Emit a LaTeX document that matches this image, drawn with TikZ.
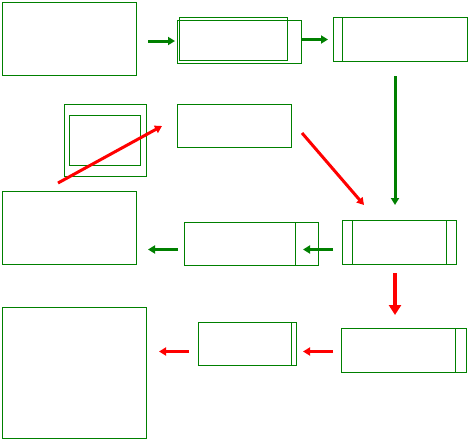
\documentclass[tikz,border=0pt]{standalone}
\usetikzlibrary{arrows.meta}
\definecolor{dgreen}{RGB}{0,128,0}
\definecolor{dred}{RGB}{255,0,0}
\begin{document}
\begin{tikzpicture}[x=1pt,y=-1pt,
  box/.style={draw=dgreen,line width=1pt,inner sep=0pt,outer sep=0pt,rectangle},
  sep/.style={draw=dgreen,line width=1pt},
  garr/.style={draw=dgreen,line width=3pt,-{Triangle[length=7pt,width=8pt]}},
  rarr/.style={draw=dred,line width=3pt,-{Triangle[length=7pt,width=8pt]}},
  rarrbig/.style={draw=dred,line width=3.5pt,-{Triangle[length=10pt,width=12pt]}}]
\useasboundingbox (0,0) rectangle (471,442);
% boxes
\node[box,minimum width=134pt,minimum height=73pt] (A) at (69,38.5) {};
\node[box,minimum width=124pt,minimum height=43pt] (B1) at (239,41.5) {};
\node[box,minimum width=108pt,minimum height=43.5pt] (B2) at (233,38.75) {};
\node[box,minimum width=134pt,minimum height=44pt] (C) at (400,39) {};
\node[box,minimum width=82pt,minimum height=72pt] (D) at (105,140) {};
\node[box,minimum width=71pt,minimum height=50pt] (Di) at (104.5,140) {};
\node[box,minimum width=114pt,minimum height=43pt] (E) at (234,125.5) {};
\node[box,minimum width=114pt,minimum height=44pt] (F) at (399,242) {};
\node[box,minimum width=134pt,minimum height=43pt] (G) at (251,243.5) {};
\node[box,minimum width=134pt,minimum height=73pt] (H) at (69,227.5) {};
\node[box,minimum width=125pt,minimum height=44pt] (I) at (403.5,350) {};
\node[box,minimum width=98pt,minimum height=43pt] (J) at (247,343.5) {};
\node[box,minimum width=144pt,minimum height=131pt] (K) at (74,372.5) {};
% inner separators
\draw[sep] ([xshift=9pt]C.north west) -- ([xshift=9pt]C.south west);
\draw[sep] ([xshift=10pt]F.north west) -- ([xshift=10pt]F.south west);
\draw[sep] ([xshift=-10pt]F.north east) -- ([xshift=-10pt]F.south east);
\draw[sep] ([xshift=-23pt]G.north east) -- ([xshift=-23pt]G.south east);
\draw[sep] ([xshift=-11pt]I.north east) -- ([xshift=-11pt]I.south east);
\draw[sep] ([xshift=-5pt]J.north east) -- ([xshift=-5pt]J.south east);
% arrow end points
\coordinate (g1s) at (148,41);   \coordinate (g1e) at (175,41);
\coordinate (g2s) at (302,39.5); \coordinate (g2e) at (328,39.5);
\coordinate (g3s) at (395,76);   \coordinate (g3e) at (395,205);
\coordinate (r1s) at (58,183);   \coordinate (r1e) at (162,126);
\coordinate (r2s) at (302,133);  \coordinate (r2e) at (364,205);
\coordinate (g4s) at (333,249.5);\coordinate (g4e) at (303,249.5);
\coordinate (g5s) at (178,249.5);\coordinate (g5e) at (148,249.5);
\coordinate (r3s) at (395,273);  \coordinate (r3e) at (395,315);
\coordinate (r4s) at (333,351.5);\coordinate (r4e) at (303,351.5);
\coordinate (r5s) at (189,351.5);\coordinate (r5e) at (159,351.5);
% arrows
\draw[garr] (g1s) -- (g1e);
\draw[garr] (g2s) -- (g2e);
\draw[garr] (g3s) -- (g3e);
\draw[rarr] (r1s) -- (r1e);
\draw[rarr] (r2s) -- (r2e);
\draw[garr] (g4s) -- (g4e);
\draw[garr] (g5s) -- (g5e);
\draw[rarrbig] (r3s) -- (r3e);
\draw[rarr] (r4s) -- (r4e);
\draw[rarr] (r5s) -- (r5e);
\end{tikzpicture}
\end{document}
